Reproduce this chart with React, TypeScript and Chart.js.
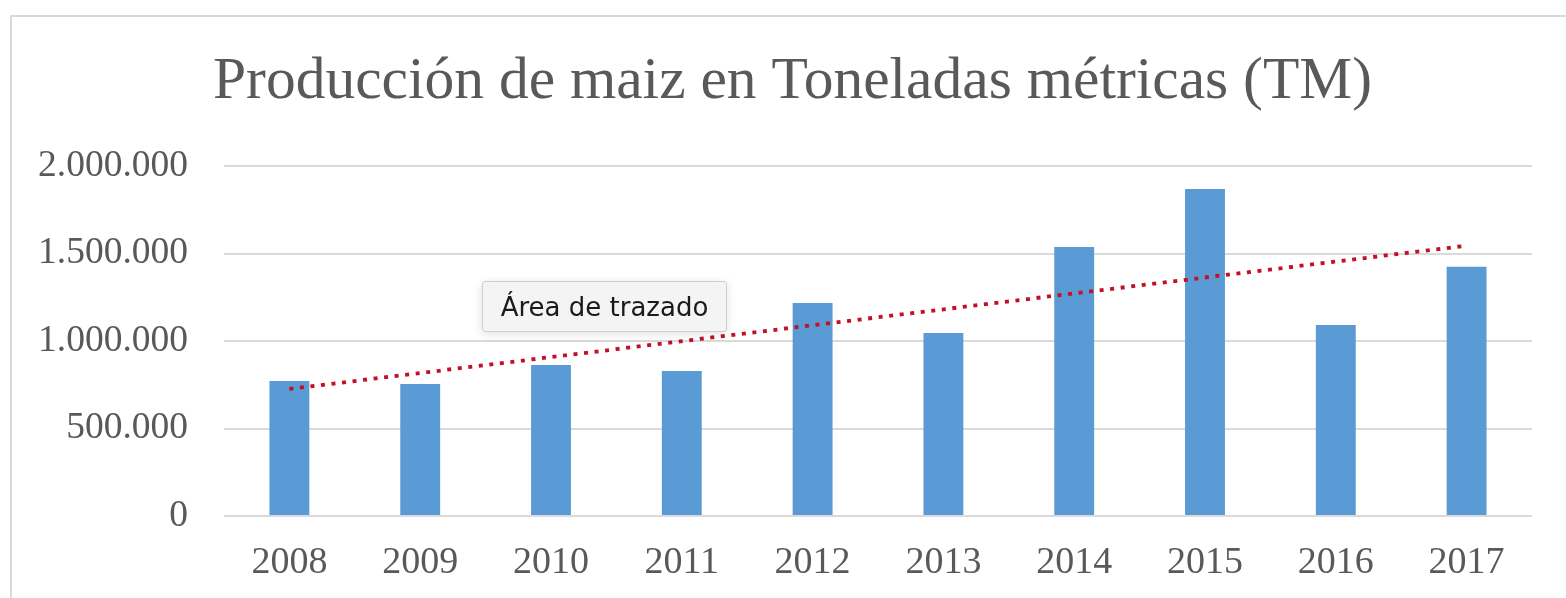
import React, { useEffect, useRef } from "react";
import { Chart, registerables } from "chart.js";

Chart.register(...registerables);

const years = ["2008", "2009", "2010", "2011", "2012", "2013", "2014", "2015", "2016", "2017"];
const production = [771000, 754000, 863000, 829000, 1217000, 1046000, 1537000, 1869000, 1091000, 1425000];
const trendEnds = [726000, null, null, null, null, null, null, null, null, 1545000];
const yTicks = [0, 500000, 1000000, 1500000, 2000000];
const titleText = "Producción de maiz en Toneladas métricas (TM)";
const tooltipText = "Área de trazado";

const fmt = (v: number) => String(Math.round(v)).replace(/\B(?=(\d{3})+(?!\d))/g, ".");

export default function App() {
  const ref = useRef<HTMLCanvasElement | null>(null);

  useEffect(() => {
    if (!ref.current) return;
    const chart = new Chart(ref.current, {
      type: "bar",
      data: {
        labels: years,
        datasets: [
          {
            type: "line",
            data: trendEnds,
            borderColor: "#c40f24",
            borderWidth: 3.8,
            borderDash: [4, 6.6],
            borderCapStyle: "butt",
            pointRadius: 0,
            spanGaps: true,
            fill: false,
            order: 0,
          } as any,
          {
            type: "bar",
            data: production,
            backgroundColor: "#5b9bd5",
            borderWidth: 0,
            barPercentage: 0.61,
            categoryPercentage: 0.5,
            order: 1,
          },
        ],
      },
      options: {
        responsive: false,
        maintainAspectRatio: false,
        animation: false,
        layout: { padding: { left: 53, right: 34, top: 0, bottom: 0 } },
        plugins: {
          legend: { display: false },
          tooltip: { enabled: false },
          title: {
            display: true,
            text: titleText,
            color: "#595959",
            font: { family: "'Liberation Serif', 'Times New Roman', serif", size: 59.5, weight: "normal" },
            padding: { top: 47, bottom: 47.6 },
          },
        },
        scales: {
          x: {
            grid: { display: false, drawTicks: false },
            border: { display: false },
            ticks: {
              color: "#595959",
              padding: 24,
              font: { family: "'Liberation Serif', 'Times New Roman', serif", size: 38 },
            },
            afterFit: (s: any) => {
              s.height = 82;
            },
          },
          y: {
            min: 0,
            max: 2000000,
            afterBuildTicks: (s: any) => {
              s.ticks = yTicks.map((v) => ({ value: v }));
            },
            grid: { color: "#dadada", lineWidth: 2, drawTicks: false },
            border: { display: false },
            ticks: {
              color: "#595959",
              padding: 36,
              font: { family: "'Liberation Serif', 'Times New Roman', serif", size: 37.5 },
              callback: (v: any) => fmt(Number(v)),
            },
            afterFit: (s: any) => {
              s.width = 171;
              s._computeLabelArea = () => undefined;
            },
          },
        },
      },
    });
    return () => chart.destroy();
  }, []);

  return (
    <div style={{ position: "fixed", left: 0, top: 0, width: 1566, height: 598, overflow: "hidden", background: "#fff" }}>
      <div
        style={{
          position: "absolute",
          left: 10,
          top: 15,
          width: 1600,
          height: 700,
          border: "2px solid #d9d9d9",
          boxSizing: "border-box",
        }}
      />
      <canvas ref={ref} width={1566} height={598} style={{ position: "absolute", left: 0, top: 0, width: 1566, height: 598 }} />
      <div
        style={{
          position: "absolute",
          left: 482,
          top: 281,
          width: 245,
          height: 51,
          boxSizing: "border-box",
          background: "#f4f4f4",
          border: "1px solid #cfcfcf",
          borderRadius: 3,
          boxShadow: "0 2px 10px rgba(0,0,0,0.12)",
          fontFamily: "'DejaVu Sans', 'Noto Sans', sans-serif",
          fontSize: 26,
          color: "#1a1a1a",
          display: "flex",
          alignItems: "center",
          justifyContent: "center",
        }}
      >
        {tooltipText}
      </div>
    </div>
  );
}
